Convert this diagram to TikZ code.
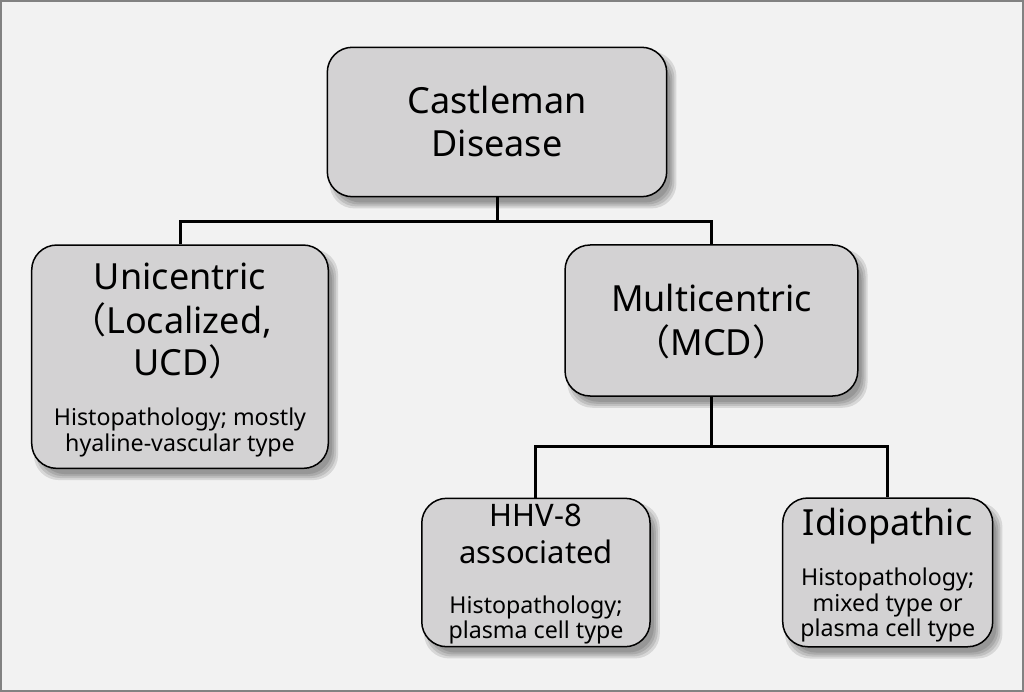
\documentclass[tikz,border=0pt]{standalone}
\usepackage{fontspec}
\setmainfont{Noto Sans}
\newfontfamily\cjk[RawFeature=+halt]{Noto Sans CJK JP}
\usetikzlibrary{calc}
\pgfdeclarelayer{back}\pgfdeclarelayer{shadow}
\pgfsetlayers{back,shadow,main}
\definecolor{bgc}{RGB}{242,242,242}
\definecolor{boxc}{RGB}{211,210,211}
\definecolor{framec}{RGB}{130,130,130}
\begin{document}
\begin{tikzpicture}[x=1pt,y=-1pt,
  box/.style={draw=black, line width=1.5pt, fill=boxc, rounded corners=25pt, inner sep=0pt},
  big/.style={anchor=base, inner sep=0pt, font=\fontsize{36}{43}\selectfont, text=black},
  mid/.style={anchor=base, inner sep=0pt, font=\fontsize{31}{37}\selectfont, text=black},
  small/.style={anchor=base, inner sep=0pt, font=\fontsize{23.2}{27}\selectfont, text=black},
  conn/.style={line width=3pt, draw=black}]
\useasboundingbox (0,0) rectangle (1024,692);
\begin{pgfonlayer}{back}
\fill[bgc, draw=framec, line width=2pt] (1,1) rectangle (1023,691);
\end{pgfonlayer}
% boxes
\node[box, minimum width=339.4pt, minimum height=149.4pt] (castle) at (497,122) {};
\node[box, minimum width=296.6pt, minimum height=223.3pt] (uni) at (180,356.7) {};
\node[box, minimum width=292.7pt, minimum height=151pt] (multi) at (711.4,320.5) {};
\node[box, minimum width=228.3pt, minimum height=148.4pt] (hhv) at (535.9,572.5) {};
\node[box, minimum width=210pt, minimum height=148.7pt] (idio) at (887.7,572.4) {};
% shadows
\begin{pgfonlayer}{shadow}
\foreach \nm in {castle,uni,multi,hhv,idio}{
  \foreach \e in {-3,-1,1,3}{
    \fill[black, opacity=.11, rounded corners=25pt]
      ($(\nm.north west)+(6-\e,8-\e)$) rectangle ($(\nm.south east)+(6+\e,8+\e)$);
  }
}
\end{pgfonlayer}
% connectors
\coordinate (j1) at (497,221.7);
\draw[conn] (castle.south) -- (j1);
\draw[conn] (uni.north) |- (j1) -| (multi.north);
\coordinate (j2) at (711.4,446);
\draw[conn] (multi.south) -- (j2);
\draw[conn] (hhv.north) |- (j2) -| (idio.north);
% texts
\node[big] (t1) at (497,113.3) {Castleman};
\node[big] (t2) at (497,156.7) {Disease};
\node[big] (t3) at (180,290) {Unicentric};
\node[big] (t4) at (180,333.3) {{\cjk （}Localized,};
\node[big] (t5) at (180,375) {UCD{\cjk ）}};
\node[small] (t6) at (180,425) {Histopathology; mostly};
\node[small] (t7) at (180,451.7) {hyaline-vascular type};
\node[big] (t8) at (711.4,311.7) {Multicentric};
\node[big] (t9) at (711.4,355) {{\cjk （}MCD{\cjk ）}};
\node[mid] (t10) at (536,526.7) {HHV-8};
\node[mid] (t11) at (536,563.3) {associated};
\node[small] (t12) at (536,613.3) {Histopathology;};
\node[small] (t13) at (536,638.3) {plasma cell type};
\node[big] (t14) at (887.7,535) {Idiopathic};
\node[small] (t15) at (887.7,585) {Histopathology;};
\node[small] (t16) at (887.7,611.7) {mixed type or};
\node[small] (t17) at (887.7,636.7) {plasma cell type};
\end{tikzpicture}
\end{document}
